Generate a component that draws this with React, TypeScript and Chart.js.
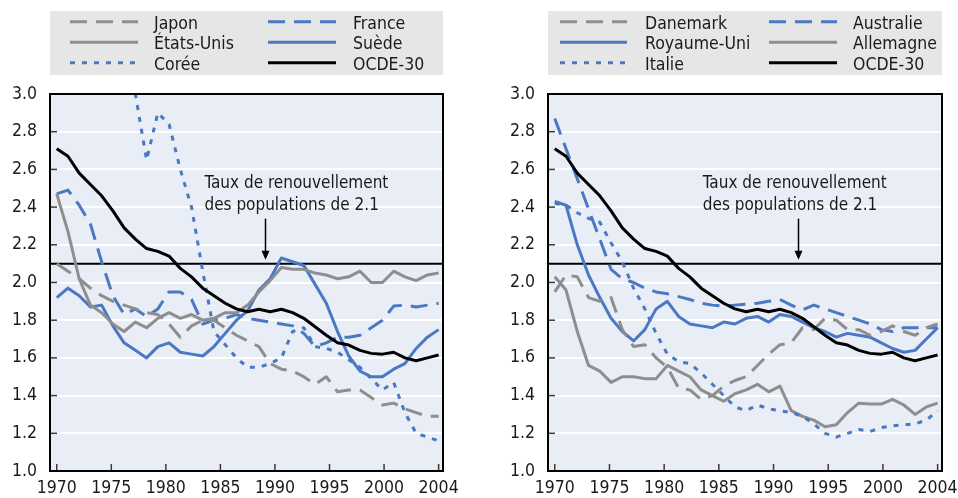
import React, { useEffect, useRef } from 'react';
import { Chart, registerables } from 'chart.js';

Chart.register(...registerables);

// ---------- data ----------
const years = [
  1970, 1971, 1972, 1973, 1974, 1975, 1976, 1977, 1978, 1979,
  1980, 1981, 1982, 1983, 1984, 1985, 1986, 1987, 1988, 1989,
  1990, 1991, 1992, 1993, 1994, 1995, 1996, 1997, 1998, 1999,
  2000, 2001, 2002, 2003, 2004,
];
const tickLabels = ['1970', '1975', '1980', '1985', '1990', '1995', '2000', '2004'];
const replacementRate = 2.1;
const annotationLines = ['Taux de renouvellement', 'des populations de 2.1'];

const japon = [2.10, 2.06, 2.02, 1.97, 1.93, 1.90, 1.88, 1.86, 1.84, 1.83, 1.78, 1.71, 1.77, 1.80, 1.80, 1.76, 1.72, 1.69, 1.66, 1.57, 1.54, 1.53, 1.50, 1.46, 1.50, 1.42, 1.43, 1.43, 1.39, 1.35, 1.36, 1.33, 1.31, 1.29, 1.29];
const etatsUnis = [2.47, 2.27, 2.02, 1.88, 1.84, 1.78, 1.74, 1.79, 1.76, 1.81, 1.84, 1.81, 1.83, 1.80, 1.81, 1.84, 1.84, 1.88, 1.95, 2.01, 2.08, 2.07, 2.07, 2.05, 2.04, 2.02, 2.03, 2.06, 2.00, 2.00, 2.06, 2.03, 2.01, 2.04, 2.05];
const coree = [4.53, 4.54, 4.12, 4.07, 3.77, 3.47, 3.20, 3.00, 2.65, 2.90, 2.84, 2.60, 2.40, 2.06, 1.74, 1.67, 1.60, 1.55, 1.55, 1.57, 1.60, 1.74, 1.76, 1.66, 1.65, 1.63, 1.59, 1.55, 1.49, 1.43, 1.47, 1.31, 1.20, 1.18, 1.16];
const france = [2.47, 2.49, 2.41, 2.31, 2.11, 1.93, 1.83, 1.86, 1.82, 1.86, 1.95, 1.95, 1.91, 1.78, 1.80, 1.81, 1.83, 1.81, 1.80, 1.79, 1.78, 1.77, 1.73, 1.66, 1.68, 1.71, 1.71, 1.72, 1.76, 1.80, 1.875, 1.88, 1.87, 1.88, 1.89];
const suede = [1.92, 1.97, 1.93, 1.87, 1.88, 1.77, 1.68, 1.64, 1.60, 1.66, 1.68, 1.63, 1.62, 1.61, 1.66, 1.73, 1.80, 1.85, 1.96, 2.02, 2.13, 2.11, 2.09, 1.99, 1.89, 1.74, 1.61, 1.53, 1.50, 1.50, 1.54, 1.57, 1.65, 1.71, 1.75];
const ocde30 = [2.71, 2.67, 2.58, 2.52, 2.46, 2.38, 2.29, 2.23, 2.18, 2.165, 2.14, 2.075, 2.03, 1.97, 1.93, 1.89, 1.86, 1.845, 1.858, 1.845, 1.858, 1.84, 1.81, 1.765, 1.72, 1.68, 1.668, 1.64, 1.624, 1.62, 1.63, 1.60, 1.585, 1.60, 1.615];

const danemark = [1.95, 2.04, 2.03, 1.92, 1.90, 1.92, 1.75, 1.66, 1.67, 1.60, 1.55, 1.44, 1.43, 1.38, 1.40, 1.45, 1.48, 1.50, 1.56, 1.62, 1.67, 1.68, 1.76, 1.75, 1.81, 1.80, 1.75, 1.75, 1.72, 1.74, 1.77, 1.74, 1.72, 1.76, 1.78];
const australie = [2.87, 2.71, 2.55, 2.39, 2.23, 2.07, 2.02, 2.00, 1.97, 1.95, 1.94, 1.925, 1.91, 1.89, 1.88, 1.875, 1.88, 1.885, 1.89, 1.90, 1.91, 1.88, 1.855, 1.88, 1.86, 1.84, 1.82, 1.80, 1.78, 1.75, 1.74, 1.76, 1.76, 1.76, 1.76];
const royaumeUni = [2.43, 2.41, 2.20, 2.04, 1.92, 1.81, 1.74, 1.69, 1.75, 1.86, 1.90, 1.82, 1.78, 1.77, 1.76, 1.79, 1.78, 1.81, 1.82, 1.79, 1.83, 1.82, 1.79, 1.76, 1.74, 1.71, 1.73, 1.72, 1.71, 1.68, 1.65, 1.63, 1.64, 1.70, 1.76];
const allemagne = [2.03, 1.96, 1.74, 1.56, 1.53, 1.47, 1.50, 1.50, 1.49, 1.49, 1.56, 1.53, 1.50, 1.43, 1.40, 1.37, 1.41, 1.43, 1.46, 1.42, 1.45, 1.32, 1.29, 1.27, 1.235, 1.245, 1.31, 1.36, 1.355, 1.355, 1.38, 1.35, 1.30, 1.34, 1.36];
const italie = [2.42, 2.41, 2.37, 2.34, 2.32, 2.21, 2.11, 1.97, 1.86, 1.73, 1.62, 1.58, 1.57, 1.52, 1.46, 1.40, 1.34, 1.32, 1.35, 1.33, 1.32, 1.31, 1.29, 1.25, 1.20, 1.18, 1.20, 1.22, 1.21, 1.23, 1.24, 1.245, 1.25, 1.27, 1.32];

// ---------- styles ----------
const BLUE = '#4a78c2';
const GRAY = '#8e8e8e';
const BLACK = '#000000';
const DASH = [17, 9];
const DOT = [5, 7];
const SOLID: number[] = [];
const FONT_FAMILY = "'Liberation Sans Narrow', 'Arial Narrow', 'DejaVu Sans Condensed', sans-serif";
const FONT_SIZE = 17.5;
const NOTE_FONT_SIZE = 17;
const TEXT_COLOR = '#1a1a1a';
const PLOT_BG = '#e9eef6';
const LEGEND_BG = '#e6e6e6';

type Series = { label: string; data: number[]; color: string; dash: number[]; col: number };

const leftSeries: Series[] = [
  { label: 'Japon', data: japon, color: GRAY, dash: DASH, col: 0 },
  { label: 'États-Unis', data: etatsUnis, color: GRAY, dash: SOLID, col: 0 },
  { label: 'Corée', data: coree, color: BLUE, dash: DOT, col: 0 },
  { label: 'France', data: france, color: BLUE, dash: DASH, col: 1 },
  { label: 'Suède', data: suede, color: BLUE, dash: SOLID, col: 1 },
  { label: 'OCDE-30', data: ocde30, color: BLACK, dash: SOLID, col: 1 },
];
const rightSeries: Series[] = [
  { label: 'Danemark', data: danemark, color: GRAY, dash: DASH, col: 0 },
  { label: 'Royaume-Uni', data: royaumeUni, color: BLUE, dash: SOLID, col: 0 },
  { label: 'Italie', data: italie, color: BLUE, dash: DOT, col: 0 },
  { label: 'Australie', data: australie, color: BLUE, dash: DASH, col: 1 },
  { label: 'Allemagne', data: allemagne, color: GRAY, dash: SOLID, col: 1 },
  { label: 'OCDE-30', data: ocde30, color: BLACK, dash: SOLID, col: 1 },
];

type Panel = {
  yWidth: number;
  padRight: number;
  legendCols: { lineStart: number; lineEnd: number; text: number }[];
  textX: number;
  arrowX: number;
};

const leftPanel: Panel = {
  yWidth: 50,
  padRight: 36,
  legendCols: [
    { lineStart: 20, lineEnd: 88, text: 104 },
    { lineStart: 218, lineEnd: 286, text: 303 },
  ],
  textX: 1983.15,
  arrowX: 1988.5,
};
const rightPanel: Panel = {
  yWidth: 69,
  padRight: 16,
  legendCols: [
    { lineStart: 12, lineEnd: 79, text: 97 },
    { lineStart: 221, lineEnd: 289, text: 305 },
  ],
  textX: 1983.15,
  arrowX: 1991.6,
};

const fontStr = (size: number) => `${size}px ${FONT_FAMILY}`;

const decorPlugin = {
  id: 'panelDecor',
  beforeDraw(chart: any) {
    const { ctx, chartArea: a } = chart;
    ctx.save();
    ctx.fillStyle = '#ffffff';
    ctx.fillRect(0, 0, chart.width, chart.height);
    ctx.fillStyle = PLOT_BG;
    ctx.fillRect(a.left, a.top, a.right - a.left, a.bottom - a.top);
    ctx.restore();
  },
  beforeDatasetsDraw(chart: any) {
    const { ctx, chartArea: a, scales } = chart;
    const y = scales.y.getPixelForValue(replacementRate);
    ctx.save();
    ctx.strokeStyle = BLACK;
    ctx.lineWidth = 2;
    ctx.beginPath();
    ctx.moveTo(a.left, y);
    ctx.lineTo(a.right, y);
    ctx.stroke();
    ctx.restore();
  },
  afterDraw(chart: any, _args: any, opts: any) {
    const panel: Panel = opts.panel;
    const { ctx, chartArea: a, scales } = chart;
    const xs = scales.x;
    const ys = scales.y;
    ctx.save();

    // inner ticks
    ctx.strokeStyle = '#3a3a3a';
    ctx.lineWidth = 1.5;
    ys.ticks.forEach((t: any) => {
      const py = ys.getPixelForValue(t.value);
      ctx.beginPath();
      ctx.moveTo(a.left, py);
      ctx.lineTo(a.left + 7, py);
      ctx.stroke();
    });
    xs.ticks.forEach((t: any) => {
      const px = xs.getPixelForValue(t.value);
      ctx.beginPath();
      ctx.moveTo(px, a.bottom);
      ctx.lineTo(px, a.bottom - 7);
      ctx.stroke();
    });

    // frame
    ctx.strokeStyle = BLACK;
    ctx.lineWidth = 2;
    ctx.strokeRect(a.left, a.top, a.right - a.left, a.bottom - a.top);

    // annotation
    ctx.fillStyle = TEXT_COLOR;
    ctx.font = fontStr(NOTE_FONT_SIZE);
    ctx.textAlign = 'left';
    ctx.textBaseline = 'alphabetic';
    const tx = xs.getPixelForValue(panel.textX);
    const refY = ys.getPixelForValue(replacementRate);
    annotationLines.forEach((line, k) => {
      ctx.fillText(line, tx, refY - 76 + k * 22.7);
    });
    const ax = Math.round(xs.getPixelForValue(panel.arrowX)) + 0.5;
    const tipY = refY - 4;
    ctx.strokeStyle = BLACK;
    ctx.lineWidth = 1.5;
    ctx.beginPath();
    ctx.moveTo(ax, refY - 45);
    ctx.lineTo(ax, tipY - 6);
    ctx.stroke();
    ctx.fillStyle = BLACK;
    ctx.beginPath();
    ctx.moveTo(ax, tipY);
    ctx.lineTo(ax - 4, tipY - 9);
    ctx.lineTo(ax + 4, tipY - 9);
    ctx.closePath();
    ctx.fill();

    // legend
    const boxTop = 11;
    const boxBottom = 75;
    ctx.fillStyle = LEGEND_BG;
    ctx.fillRect(a.left, boxTop, a.right - a.left, boxBottom - boxTop);
    const rows = [0, 0];
    chart.data.datasets.forEach((ds: any) => {
      const col = panel.legendCols[ds.legendCol];
      const row = rows[ds.legendCol]++;
      const base = 28.5 + row * 20.5;
      const ly = base - 6.8;
      ctx.strokeStyle = ds.borderColor;
      ctx.lineWidth = 3;
      ctx.setLineDash(ds.borderDash || []);
      ctx.beginPath();
      ctx.moveTo(a.left + col.lineStart, ly);
      ctx.lineTo(a.left + col.lineEnd, ly);
      ctx.stroke();
      ctx.setLineDash([]);
      ctx.fillStyle = TEXT_COLOR;
      ctx.font = fontStr(FONT_SIZE);
      ctx.textAlign = 'left';
      ctx.textBaseline = 'alphabetic';
      ctx.fillText(ds.label, a.left + col.text, base);
    });
    ctx.restore();
  },
};

function makeConfig(series: Series[], panel: Panel): any {
  const first = years[0];
  const last = years[years.length - 1];
  const span = last - first;
  return {
    type: 'line',
    data: {
      datasets: series.map((s) => ({
        label: s.label,
        data: s.data.map((v, i) => ({ x: years[i], y: v })),
        borderColor: s.color,
        borderDash: s.dash,
        borderWidth: 3,
        borderJoinStyle: 'round',
        pointRadius: 0,
        tension: 0,
        fill: false,
        order: s.label === 'OCDE-30' ? 0 : 1,
        legendCol: s.col,
      })),
    },
    options: {
      responsive: false,
      animation: false,
      events: [],
      layout: { padding: { top: 94, right: panel.padRight, bottom: 0, left: 0 } },
      plugins: {
        legend: { display: false },
        tooltip: { enabled: false },
        title: { display: false },
        panelDecor: { panel },
      },
      scales: {
        x: {
          type: 'linear',
          min: first - 0.6,
          max: last + 0.39,
          afterBuildTicks: (sc: any) => {
            sc.ticks = tickLabels.map((_, k) => ({ value: first + (k * span) / (tickLabels.length - 1) }));
          },
          afterFit: (sc: any) => {
            sc.height = 27;
            sc.paddingLeft = 0;
            sc.paddingRight = 0;
          },
          ticks: {
            autoSkip: false,
            maxRotation: 0,
            padding: 7,
            color: TEXT_COLOR,
            font: { family: FONT_FAMILY, size: FONT_SIZE },
            callback: (_v: any, idx: number) => tickLabels[idx],
          },
          grid: { display: false, drawTicks: false },
          border: { display: false },
        },
        y: {
          min: 1.0,
          max: 3.0,
          afterFit: (sc: any) => {
            sc.width = panel.yWidth;
            sc.paddingTop = 0;
            sc.paddingBottom = 0;
          },
          ticks: {
            stepSize: 0.2,
            padding: 13,
            color: TEXT_COLOR,
            font: { family: FONT_FAMILY, size: FONT_SIZE },
            callback: (v: any) => Number(v).toFixed(1),
          },
          grid: { color: '#ffffff', lineWidth: 2, drawTicks: false },
          border: { display: false },
        },
      },
    },
    plugins: [decorPlugin],
  };
}

function PanelChart({ series, panel, left }: { series: Series[]; panel: Panel; left: number }) {
  const ref = useRef<HTMLCanvasElement | null>(null);
  useEffect(() => {
    if (!ref.current) return;
    const chart = new Chart(ref.current, makeConfig(series, panel));
    return () => chart.destroy();
  }, [series, panel]);
  return (
    <canvas
      ref={ref}
      width={479}
      height={498}
      style={{ position: 'absolute', left, top: 0, width: 479, height: 498, display: 'block' }}
    />
  );
}

export default function App() {
  return (
    <div style={{ position: 'absolute', left: 0, top: 0, width: 958, height: 498, background: '#ffffff' }}>
      <PanelChart series={leftSeries} panel={leftPanel} left={0} />
      <PanelChart series={rightSeries} panel={rightPanel} left={479} />
    </div>
  );
}
